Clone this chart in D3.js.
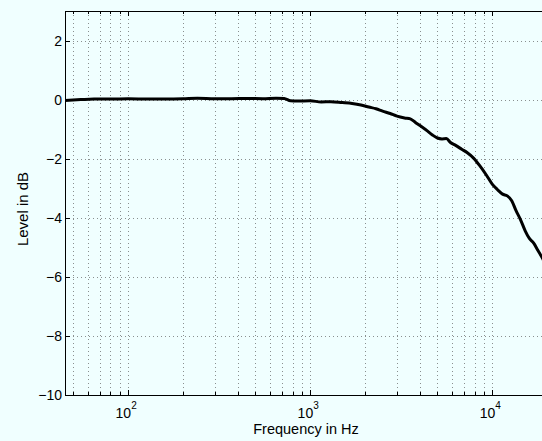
<!DOCTYPE html>
<html>
<head>
<meta charset="utf-8">
<script src="https://cdn.jsdelivr.net/npm/d3@7"></script>
<style>
  body { margin: 0; background: #f0ffff; }
  svg { display: block; }
  text { font-family: "Liberation Sans", Arial, Helvetica, sans-serif; fill: #000; }
</style>
</head>
<body>
<script>
// frequency response
const freq = [45, 55, 65, 80, 100, 130, 160, 200, 240, 300, 370, 450, 550, 650, 720, 780, 850, 1000,
  1150, 1300, 1500, 1700, 1900, 2100, 2300, 2500, 2750, 3000, 3300, 3550, 3800, 4100, 4400, 4700,
  5000, 5300, 5600, 5900, 6300, 6800, 7300, 7900, 8500, 9300, 10000, 10700, 11400, 12100, 12800,
  13500, 14300, 15200, 16000, 16900, 17800, 18800, 20000];
const level = [-0.03, 0.0, 0.02, 0.02, 0.03, 0.02, 0.02, 0.03, 0.05, 0.03, 0.03, 0.04, 0.03, 0.05, 0.04,
  -0.04, -0.05, -0.04, -0.08, -0.07, -0.1, -0.13, -0.18, -0.25, -0.31, -0.39, -0.47, -0.56, -0.62,
  -0.65, -0.78, -0.92, -1.06, -1.2, -1.3, -1.33, -1.32, -1.45, -1.55, -1.68, -1.8, -1.98, -2.22,
  -2.56, -2.86, -3.05, -3.2, -3.26, -3.42, -3.75, -4.06, -4.45, -4.7, -4.86, -5.1, -5.35, -5.7];

const yTicks = [-10, -8, -6, -4, -2, 0, 2];
const xMajor = [100, 1000, 10000];
const xExp = ['2', '3', '4'];
const xMinor = [50, 60, 70, 80, 90, 200, 300, 400, 500, 600, 700, 800, 900,
  2000, 3000, 4000, 5000, 6000, 7000, 8000, 9000];

const W = 542, H = 441;
const mLeft = 65, mRight = 547, mTop = 11, mBottom = 395;

const svg = d3.select('body').append('svg')
  .attr('width', W)
  .attr('height', H);

svg.append('rect')
  .attr('width', W).attr('height', H)
  .attr('fill', '#f0ffff');

const x = d3.scaleLog().domain([45, 20000]).range([mLeft, mRight]);
const y = d3.scaleLinear().domain([-10, 3]).range([mBottom, mTop]);

svg.append('clipPath').attr('id', 'clip')
  .append('rect')
  .attr('x', mLeft).attr('y', mTop)
  .attr('width', mRight - mLeft).attr('height', mBottom - mTop);

// grid, dotted
const grid = svg.append('g')
  .attr('stroke', '#8a8f8f')
  .attr('stroke-width', 1)
  .attr('stroke-dasharray', '1,3');

grid.selectAll('line.v')
  .data(xMajor.concat(xMinor)).enter()
  .append('line')
  .attr('x1', d => Math.round(x(d)) + 0.5)
  .attr('x2', d => Math.round(x(d)) + 0.5)
  .attr('y1', mTop)
  .attr('y2', mBottom);

grid.selectAll('line.h')
  .data(yTicks.filter(d => d > -10)).enter()
  .append('line')
  .attr('y1', d => Math.round(y(d)) + 0.5)
  .attr('y2', d => Math.round(y(d)) + 0.5)
  .attr('x1', mLeft)
  .attr('x2', mRight);

// axes box
const box = svg.append('g').attr('stroke', '#000').attr('stroke-width', 1);
box.append('line').attr('x1', mLeft + 0.5).attr('x2', mLeft + 0.5).attr('y1', mTop).attr('y2', mBottom + 0.5);
box.append('line').attr('x1', mLeft).attr('x2', mRight).attr('y1', mBottom + 0.5).attr('y2', mBottom + 0.5);
box.append('line').attr('x1', mLeft).attr('x2', mRight).attr('y1', mTop + 0.5).attr('y2', mTop + 0.5);

// ticks (inward, like matlab)
yTicks.forEach(d => {
  const yy = Math.round(y(d)) + 0.5;
  box.append('line').attr('x1', mLeft).attr('x2', mLeft + 5).attr('y1', yy).attr('y2', yy);
});
xMajor.forEach(d => {
  const xx = Math.round(x(d)) + 0.5;
  box.append('line').attr('x1', xx).attr('x2', xx).attr('y1', mBottom).attr('y2', mBottom - 5);
  box.append('line').attr('x1', xx).attr('x2', xx).attr('y1', mTop).attr('y2', mTop + 5);
});
xMinor.forEach(d => {
  const xx = Math.round(x(d)) + 0.5;
  box.append('line').attr('x1', xx).attr('x2', xx).attr('y1', mBottom).attr('y2', mBottom - 3);
  box.append('line').attr('x1', xx).attr('x2', xx).attr('y1', mTop).attr('y2', mTop + 3);
});

// y tick labels
svg.selectAll('text.yt')
  .data(yTicks).enter()
  .append('text')
  .attr('x', mLeft - 3)
  .attr('y', d => y(d) + 5)
  .attr('text-anchor', 'end')
  .attr('font-size', 14)
  .text(d => d < 0 ? '\u2212' + Math.abs(d) : d);

// x tick labels 10^n
xMajor.forEach((d, i) => {
  const t = svg.append('text')
    .attr('x', x(d) - 2)
    .attr('y', 418)
    .attr('text-anchor', 'middle')
    .attr('font-size', 14);
  t.append('tspan').text('10');
  t.append('tspan').attr('font-size', 10).attr('dy', -9).text(xExp[i]);
});

// axis titles
svg.append('text')
  .attr('x', 306)
  .attr('y', 434)
  .attr('text-anchor', 'middle')
  .attr('font-size', 14.5)
  .text('Frequency in Hz');

svg.append('text')
  .attr('transform', 'translate(28,209) rotate(-90)')
  .attr('text-anchor', 'middle')
  .attr('font-size', 15)
  .text('Level in dB');

// response curve
const line = d3.line()
  .x((d, i) => x(freq[i]))
  .y(d => y(d))
  .curve(d3.curveMonotoneX);

svg.append('path')
  .datum(level)
  .attr('clip-path', 'url(#clip)')
  .attr('fill', 'none')
  .attr('stroke', '#000')
  .attr('stroke-width', 3)
  .attr('stroke-linejoin', 'round')
  .attr('d', line);
</script>
</body>
</html>
